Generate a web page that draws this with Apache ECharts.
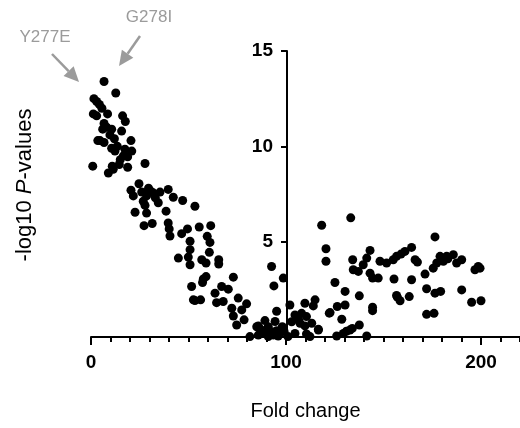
<!DOCTYPE html>
<html>
<head>
<meta charset="utf-8">
<script src="https://cdn.jsdelivr.net/npm/echarts@6/dist/echarts.min.js"></script>
<style>
  html, body { margin: 0; padding: 0; background: #fff; }
  #chart { width: 520px; height: 428px; }
</style>
</head>
<body>
<div id="chart"></div>
<script>
// fold change (x) and -log10 P (y)
const foldChange = [
  6.7, 12.7, 1.5, 2.9, 4.3, 5.6, 1.2, 2.9, 8.5, 16.2, 17.6, 6.7, 6.0, 10.6, 15.7, 9.7, 4.6, 6.7, 12.0, 20.5,
  10.6, 12.3, 17.4, 20.9, 16.6, 18.8, 27.7, 0.9, 10.9, 14.5, 18.8, 8.9, 11.4, 8.0, 13.5, 15.0, 3.5,
  24.6, 20.5, 21.7, 30.6, 31.9, 35.4, 39.6, 28.5, 26.8, 27.7, 34.5, 42.2, 47.0, 53.3, 22.6, 28.5, 38.5,
  27.2, 31.4, 39.6, 40.1, 40.5, 46.5, 49.5, 55.5, 61.4, 59.6, 50.8, 61.0, 50.8, 44.8, 49.9, 60.7, 50.8,
  56.8, 59.0, 65.5, 65.5, 59.0, 29.5, 33.0, 26.0,
  73.0, 57.6, 57.2, 51.6, 67.0, 70.4, 63.6, 52.5, 56.2, 53.3, 64.4, 67.8, 75.5, 72.2, 79.8, 77.3, 73.0,
  78.5, 74.7, 92.6, 93.8, 98.6, 95.2, 89.2, 85.0, 94.4, 81.5, 85.8, 90.9, 85.8, 90.1, 92.6, 95.2, 96.9,
  88.4, 93.5, 98.1, 90.9, 96.0, 99.0, 87.0,
  102.0, 109.7, 114.9, 114.0, 104.6, 108.0, 110.5, 102.9, 107.2, 109.7, 113.2, 116.6, 104.6, 110.5,
  101.0, 122.6, 112.3, 106.5,
  133.2, 118.3, 120.5, 120.5, 134.2, 143.1, 141.4, 139.6, 134.5, 137.1, 143.1, 144.4, 147.3, 148.2,
  151.6, 155.0, 156.7, 155.4, 157.1, 125.1, 130.3, 137.6, 130.3, 126.3, 122.2, 144.4, 144.4, 128.6,
  137.6, 132.8, 129.4, 126.0, 141.4, 116.6, 131.0, 134.0,
  176.4, 164.4, 161.0, 166.2, 167.4, 179.0, 182.4, 185.8, 190.1, 187.5, 180.7, 177.3, 175.5, 198.6,
  196.9, 171.3, 164.4, 172.1, 176.4, 179.3, 190.1, 156.7, 158.5, 163.2, 195.2, 200.0, 172.1, 175.9,
  183.0, 159.0, 199.5
];
const negLogP = [
  13.4, 12.8, 12.5, 12.35, 12.2, 12.0, 11.7, 11.6, 11.7, 11.6, 11.3, 11.2, 10.9, 10.9, 10.8, 10.6, 10.3, 10.2, 10.4, 10.3,
  9.9, 9.75, 9.85, 9.75, 9.5, 9.45, 9.1, 8.96, 8.96, 9.05, 8.9, 8.6, 8.8, 11.0, 10.0, 9.3, 10.3,
  8.04, 7.7, 7.4, 7.65, 7.56, 7.6, 7.74, 7.4, 7.12, 6.9, 7.04, 7.33, 7.16, 6.86, 6.54, 6.5, 6.6,
  5.84, 5.95, 5.98, 5.67, 5.3, 5.42, 5.67, 5.77, 5.84, 5.28, 5.02, 4.96, 4.58, 4.14, 4.19, 4.44, 3.79,
  4.05, 3.88, 4.05, 3.83, 3.17, 7.8, 7.3, 7.6,
  3.14, 3.04, 2.86, 2.65, 2.65, 2.51, 2.3, 1.95, 1.95, 1.91, 1.8, 1.86, 2.04, 1.51, 1.74, 1.42, 1.1,
  0.9, 0.63, 3.7, 2.68, 3.09, 1.35, 0.86, 0.54, 0.81, 0.02, 0.58, 0.54, 0.1, 0.28, 0.28, 0.33, 0.19,
  0.19, 0.1, 0.54, 0.02, 0.05, 0.3, 0.4,
  1.68, 1.77, 1.95, 1.63, 1.16, 1.24, 1.07, 0.8, 0.72, 0.58, 0.72, 0.37, 0.19, 0.16,
  0.02, 1.28, 0.02, 0.9,
  6.25, 5.86, 4.63, 3.97, 4.05, 4.54, 4.14, 3.79, 3.53, 3.44, 3.35, 3.09, 3.09, 3.97,
  3.88, 4.05, 4.23, 3.04, 2.09, 2.86, 2.39, 2.16, 1.68, 1.6, 1.25, 1.56, 1.38, 0.93,
  0.63, 0.37, 0.19, 0.05, 0.05, 0.4, 0.3, 0.45,
  5.25, 4.7, 4.49, 4.05, 3.93, 4.23, 4.23, 4.32, 4.05, 3.88, 3.97, 3.88, 3.61, 3.7,
  3.53, 3.3, 3.0, 2.53, 2.3, 2.39, 2.47, 2.18, 1.9, 2.12, 1.82, 1.9, 1.19, 1.24,
  4.1, 4.35, 3.61
];
const xLabelTicks = [0, 100, 200];
const yAxisAtX = 100;

const X_MIN = 0, X_MAX = 220;
const GRID = { left: 91, right: 0, top: 51, bottom: 91 };
const plotWidth = 520 - GRID.left - GRID.right;

const points = foldChange.map((x, i) => [x, negLogP[i]]);

// arrow drawn from start to tip
const arrow = (x1, y1, x2, y2) => {
  const ang = Math.atan2(y2 - y1, x2 - x1);
  const len = 15, half = 7;
  const bx = x2 - len * Math.cos(ang), by = y2 - len * Math.sin(ang);
  const px = -Math.sin(ang) * half, py = Math.cos(ang) * half;
  return [
    { type: 'line', shape: { x1, y1, x2: bx, y2: by }, style: { stroke: '#9b9b9b', lineWidth: 2.5 } },
    { type: 'polygon', shape: { points: [[x2, y2], [bx + px, by + py], [bx - px, by - py]] },
      style: { fill: '#9b9b9b' } }
  ];
};

const FONT = 'Liberation Sans, Arial, sans-serif';
const chart = echarts.init(document.getElementById('chart'));
const bold = { color: '#000', fontSize: 19, fontWeight: 'bold', fontFamily: FONT };

chart.setOption({
  animation: false,
  grid: GRID,
  xAxis: [
    {
      type: 'value', min: X_MIN, max: X_MAX, interval: 10,
      axisLine: { show: true, lineStyle: { color: '#000', width: 2 } },
      axisTick: { show: true, length: 5, lineStyle: { color: '#000', width: 2 } },
      axisLabel: { show: false },
      splitLine: { show: false },
      name: 'Fold change', nameLocation: 'middle', nameGap: 64,
      nameTextStyle: { color: '#000', fontSize: 20, fontFamily: FONT }
    },
    {
      type: 'value', min: X_MIN, max: X_MAX, position: 'bottom',
      axisLine: { show: false },
      axisTick: { show: true, length: 8, customValues: xLabelTicks, lineStyle: { color: '#000', width: 2 } },
      axisLabel: Object.assign({ customValues: xLabelTicks, margin: 16 }, bold),
      splitLine: { show: false }
    }
  ],
  yAxis: {
    type: 'value', min: 0, max: 15, interval: 5,
    offset: -plotWidth * (yAxisAtX - X_MIN) / (X_MAX - X_MIN) - 1,
    axisLine: { show: true, lineStyle: { color: '#000', width: 2 } },
    axisTick: { show: true, length: 6, lineStyle: { color: '#000', width: 2 } },
    axisLabel: Object.assign({ showMinLabel: false, margin: 14 }, bold),
    splitLine: { show: false }
  },
  graphic: [
    {
      type: 'text', x: 25, y: 185, rotation: Math.PI / 2,
      style: {
        text: '-log10 {i|P}-values',
        fill: '#000', font: '22px "Liberation Sans", Arial, sans-serif',
        align: 'center', verticalAlign: 'middle',
        rich: { i: { fontStyle: 'italic', fontSize: 22, fontFamily: FONT, fill: '#000' } }
      }
    },
    { type: 'text', x: 45, y: 37, style: { text: 'Y277E', fill: '#9b9b9b',
      font: '17px "Liberation Sans", Arial, sans-serif', align: 'center', verticalAlign: 'middle' } },
    { type: 'text', x: 149, y: 17, style: { text: 'G278I', fill: '#9b9b9b',
      font: '17px "Liberation Sans", Arial, sans-serif', align: 'center', verticalAlign: 'middle' } },
    ...arrow(52, 54, 79, 82),
    ...arrow(140, 36, 119, 66)
  ],
  series: [{
    type: 'scatter',
    data: points,
    symbolSize: 9,
    itemStyle: { color: '#000', opacity: 1 }
  }]
});
</script>
</body>
</html>
